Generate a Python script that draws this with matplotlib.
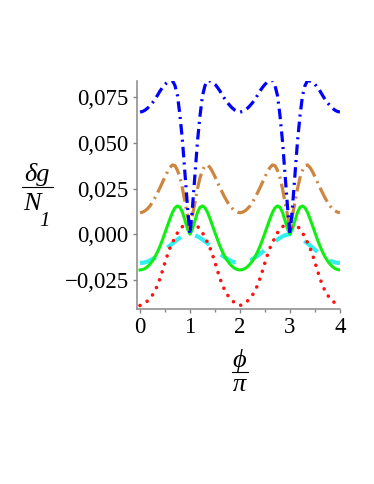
import numpy as np
import matplotlib
matplotlib.use('Agg')
from matplotlib import pyplot as plt
from matplotlib.lines import Line2D
from matplotlib.ticker import MultipleLocator, FixedLocator

# phi/pi grid, step 0.05 from 0 to 4
phi = np.round(np.arange(0, 81) * 0.05, 2)

blue = [0.0670, 0.0673, 0.0680, 0.0691, 0.0705, 0.0721, 0.0740, 0.0762, 0.0785, 0.0805,
        0.0822, 0.0834, 0.0840, 0.0842, 0.0815, 0.0760, 0.0650, 0.0510, 0.0330, 0.0150,
        0.0000,
        0.0150, 0.0330, 0.0510, 0.0650, 0.0760, 0.0815, 0.0842, 0.0840, 0.0834, 0.0822,
        0.0805, 0.0785, 0.0762, 0.0740, 0.0721, 0.0705, 0.0691, 0.0680, 0.0673, 0.0670,
        0.0673, 0.0680, 0.0691, 0.0705, 0.0721, 0.0740, 0.0762, 0.0785, 0.0805,
        0.0822, 0.0834, 0.0840, 0.0842, 0.0815, 0.0760, 0.0650, 0.0510, 0.0330, 0.0150,
        0.0000,
        0.0150, 0.0330, 0.0510, 0.0650, 0.0760, 0.0815, 0.0842, 0.0840, 0.0834, 0.0822,
        0.0805, 0.0785, 0.0762, 0.0740, 0.0721, 0.0705, 0.0691, 0.0680, 0.0673, 0.0670]

orange = [0.0118, 0.0121, 0.0128, 0.0140, 0.0155, 0.0176, 0.0200, 0.0227, 0.0255, 0.0285,
          0.0315, 0.0343, 0.0366, 0.0380, 0.0376, 0.0350, 0.0310, 0.0250, 0.0175, 0.0105,
          0.0030,
          0.0105, 0.0175, 0.0250, 0.0310, 0.0350, 0.0376, 0.0380, 0.0366, 0.0343, 0.0315,
          0.0285, 0.0255, 0.0227, 0.0200, 0.0176, 0.0155, 0.0140, 0.0128, 0.0121, 0.0118,
          0.0121, 0.0128, 0.0140, 0.0155, 0.0176, 0.0200, 0.0227, 0.0255, 0.0285,
          0.0315, 0.0343, 0.0366, 0.0380, 0.0376, 0.0350, 0.0310, 0.0250, 0.0175, 0.0105,
          0.0030,
          0.0105, 0.0175, 0.0250, 0.0310, 0.0350, 0.0376, 0.0380, 0.0366, 0.0343, 0.0315,
          0.0285, 0.0255, 0.0227, 0.0200, 0.0176, 0.0155, 0.0140, 0.0128, 0.0121, 0.0118]

green = [-0.0196, -0.0194, -0.0188, -0.0178, -0.0164, -0.0146, -0.0124, -0.0097, -0.0066, -0.0030,
         0.0008, 0.0047, 0.0085, 0.0120, 0.0145, 0.0155, 0.0148, 0.0120, 0.0075, 0.0030,
         0.0000,
         0.0030, 0.0075, 0.0120, 0.0148, 0.0155, 0.0145, 0.0120, 0.0085, 0.0047, 0.0008,
         -0.0030, -0.0066, -0.0097, -0.0124, -0.0146, -0.0164, -0.0178, -0.0188, -0.0194, -0.0196,
         -0.0194, -0.0188, -0.0178, -0.0164, -0.0146, -0.0124, -0.0097, -0.0066, -0.0030,
         0.0008, 0.0047, 0.0085, 0.0120, 0.0145, 0.0155, 0.0148, 0.0120, 0.0075, 0.0030,
         0.0000,
         0.0030, 0.0075, 0.0120, 0.0148, 0.0155, 0.0145, 0.0120, 0.0085, 0.0047, 0.0008,
         -0.0030, -0.0066, -0.0097, -0.0124, -0.0146, -0.0164, -0.0178, -0.0188, -0.0194, -0.0196]

cyan = [-0.0158, -0.0157, -0.0154, -0.0150, -0.0144, -0.0136, -0.0128, -0.0118, -0.0108, -0.0097,
        -0.0085, -0.0073, -0.0062, -0.0050, -0.0040, -0.0029, -0.0020, -0.0012, -0.0006, -0.0002,
        0.0000,
        -0.0002, -0.0006, -0.0012, -0.0020, -0.0029, -0.0040, -0.0050, -0.0062, -0.0073, -0.0085,
        -0.0097, -0.0108, -0.0118, -0.0128, -0.0136, -0.0144, -0.0150, -0.0154, -0.0157, -0.0158,
        -0.0157, -0.0154, -0.0150, -0.0144, -0.0136, -0.0128, -0.0118, -0.0108, -0.0097,
        -0.0085, -0.0073, -0.0062, -0.0050, -0.0040, -0.0029, -0.0020, -0.0012, -0.0006, -0.0002,
        0.0000,
        -0.0002, -0.0006, -0.0012, -0.0020, -0.0029, -0.0040, -0.0050, -0.0062, -0.0073, -0.0085,
        -0.0097, -0.0108, -0.0118, -0.0128, -0.0136, -0.0144, -0.0150, -0.0154, -0.0157, -0.0158]

red = [-0.0391, -0.0385, -0.0377, -0.0366, -0.0352, -0.0333, -0.0310, -0.0280, -0.0243, -0.0200,
       -0.0155, -0.0113, -0.0075, -0.0045, -0.0018, 0.0008, 0.0030, 0.0042, 0.0046, 0.0042,
       0.0038,
       0.0042, 0.0046, 0.0042, 0.0030, 0.0008, -0.0018, -0.0045, -0.0075, -0.0113, -0.0155,
       -0.0200, -0.0243, -0.0280, -0.0310, -0.0333, -0.0352, -0.0366, -0.0377, -0.0385, -0.0391,
       -0.0385, -0.0377, -0.0366, -0.0352, -0.0333, -0.0310, -0.0280, -0.0243, -0.0200,
       -0.0155, -0.0113, -0.0075, -0.0045, -0.0018, 0.0008, 0.0030, 0.0042, 0.0046, 0.0042,
       0.0038,
       0.0042, 0.0046, 0.0042, 0.0030, 0.0008, -0.0018, -0.0045, -0.0075, -0.0113, -0.0155,
       -0.0200, -0.0243, -0.0280, -0.0310, -0.0333, -0.0352, -0.0366, -0.0377, -0.0385, -0.0391]

yticks = [-0.025, 0.0, 0.025, 0.05, 0.075]
ytick_labels = ['\u22120,025', '0,000', '0,025', '0,050', '0,075']
xticks = [0, 1, 2, 3, 4]

serif = ['Liberation Serif', 'DejaVu Serif']
plt.rcParams['font.family'] = serif

fig = plt.figure(figsize=(3.74, 4.84), dpi=100)
ax = fig.add_axes([0.3663, 0.3616, 0.9091 - 0.3663, 0.8333 - 0.3616])

ax.plot(phi, cyan, color='#33eeee', lw=3.0, linestyle=(0, (4.1, 3.6)), zorder=2)
ax.plot(phi, green, color='#11ee11', lw=2.2, zorder=3)
ax.plot(phi, red, color='#ff1111', lw=2.6, linestyle=(0, (0.01, 2.3)),
        dash_capstyle='round', zorder=4)
ax.plot(phi, orange, color='#cd853f', lw=2.3, linestyle=(0, (4.9, 1.6, 0.65, 1.6)), zorder=5)
ax.plot(phi, blue, color='#0000ff', lw=2.3, linestyle=(0, (3.3, 1.6, 0.65, 1.6)), zorder=6)

ax.set_xlim(-0.06, 4.0)
ax.set_ylim(-0.041, 0.0842)

for s in ['top', 'right']:
    ax.spines[s].set_visible(False)
for s in ['left', 'bottom']:
    ax.spines[s].set_color('#888888')
    ax.spines[s].set_linewidth(1.1)

ax.xaxis.set_major_locator(FixedLocator(xticks))
ax.xaxis.set_minor_locator(MultipleLocator(0.5))
ax.set_yticks(yticks)
ax.set_yticklabels(ytick_labels)
ax.tick_params(axis='both', which='major', length=3, width=1, color='#888888',
               labelsize=16.5, pad=3)
ax.tick_params(axis='x', which='minor', length=2, width=1, color='#888888')

# y label: delta g over N_1
fig.text(36.7 / 374, 1 - 174 / 484, '\u03b4g', fontsize=19, style='italic',
         ha='center', va='center', family=serif)
fig.add_artist(Line2D([21.7 / 374, 52.7 / 374], [1 - 186.7 / 484, 1 - 186.7 / 484],
                      color='black', lw=0.8))
fig.text(31.7 / 374, 1 - 204 / 484, 'N', fontsize=19, style='italic',
         ha='center', va='center', family=serif)
fig.text(44 / 374, 1 - 221.7 / 484, '1', fontsize=15, style='italic',
         ha='center', va='center', family=serif)

# x label: phi over pi
fig.text(239.3 / 374, 1 - 360 / 484, '\u03d5', fontsize=19, style='italic',
         ha='center', va='center', family=serif)
fig.add_artist(Line2D([231.7 / 374, 248.3 / 374], [1 - 371.7 / 484, 1 - 371.7 / 484],
                      color='black', lw=0.8))
fig.text(239.3 / 374, 1 - 385 / 484, '\u03c0', fontsize=19, style='italic',
         ha='center', va='center', family=serif)

plt.savefig('out.png', dpi=100)
